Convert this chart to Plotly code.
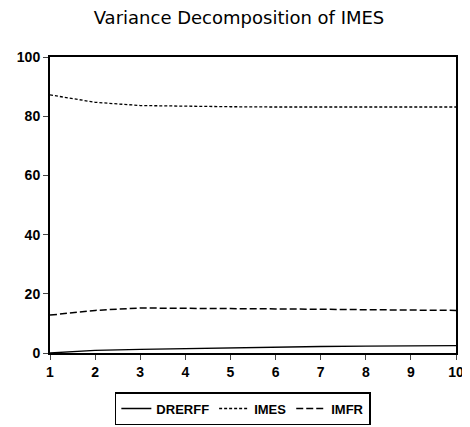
import plotly.graph_objects as go

periods = [1, 2, 3, 4, 5, 6, 7, 8, 9, 10]
drerff = [0.0, 0.9, 1.2, 1.5, 1.8, 2.0, 2.2, 2.3, 2.4, 2.5]
imes = [87.2, 84.7, 83.6, 83.3, 83.2, 83.1, 83.1, 83.1, 83.1, 83.1]
imfr = [12.8, 14.4, 15.2, 15.2, 15.0, 14.9, 14.7, 14.6, 14.5, 14.4]
yticks = [0, 20, 40, 60, 80, 100]

FONT = "Liberation Sans, Arial, sans-serif"

fig = go.Figure()
fig.add_trace(go.Scatter(x=periods, y=drerff, name="DRERFF", mode="lines",
                         line=dict(color="black", width=1.3, dash="solid")))
fig.add_trace(go.Scatter(x=periods, y=imes, name="IMES", mode="lines",
                         line=dict(color="black", width=1.3, dash="3px,2px")))
fig.add_trace(go.Scatter(x=periods, y=imfr, name="IMFR", mode="lines",
                         line=dict(color="black", width=1.5, dash="7px,3px")))

# page body has an 8px margin, so the figure is sized/offset to compensate
fig.update_layout(
    width=462, height=419,
    paper_bgcolor="white", plot_bgcolor="white",
    margin=dict(l=42, r=14, t=49, b=74, autoexpand=False),
    font=dict(family=FONT, color="black", size=13),
    title=dict(text="Variance Decomposition of IMES", x=0.5, xanchor="center",
               y=0.976, yanchor="middle",
               font=dict(size=18, family="DejaVu Sans, sans-serif")),
    showlegend=True,
    legend=dict(orientation="h", x=0.475, xanchor="center", y=-0.132, yanchor="top",
                bordercolor="black", borderwidth=1.5,
                font=dict(size=13, family=FONT, weight="bold"),
                tracegroupgap=0, itemwidth=30),
)
fig.update_xaxes(range=[1, 10], tickvals=periods, ticks="outside", ticklen=5,
                 showline=True, linecolor="black", linewidth=2, mirror=True,
                 showgrid=False, zeroline=False,
                 tickfont=dict(size=14, family=FONT, weight="bold"))
fig.update_yaxes(range=[0, 100], tickvals=yticks, ticks="outside", ticklen=5,
                 showline=True, linecolor="black", linewidth=2, mirror=True,
                 showgrid=False, zeroline=False,
                 tickfont=dict(size=14, family=FONT, weight="bold"))

fig.write_html("out.html")
